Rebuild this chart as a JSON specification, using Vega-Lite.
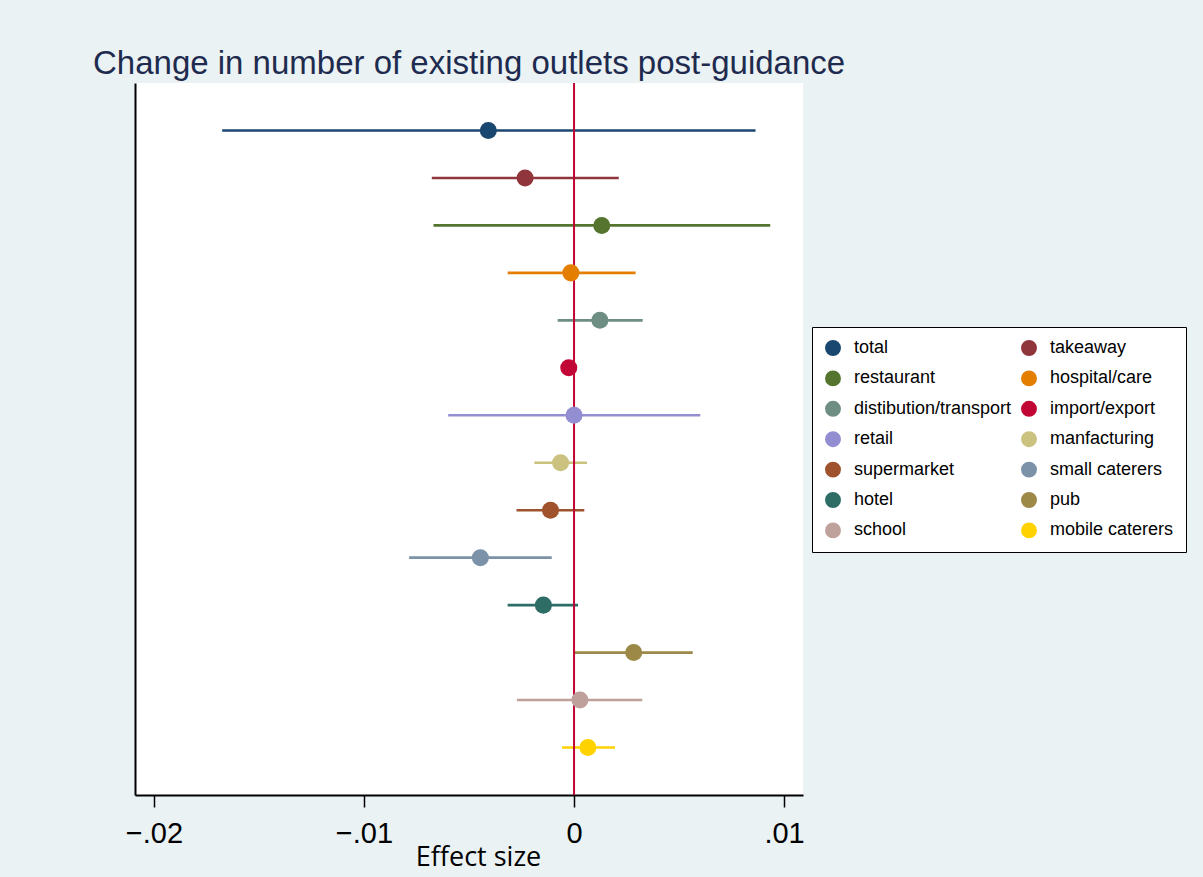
{
  "$schema": "https://vega.github.io/schema/vega-lite/v6.json",
  "autosize": "none",
  "width": 668,
  "height": 712,
  "padding": {"left": 135, "top": 83, "right": 400, "bottom": 82},
  "background": "#eaf2f3",
  "title": {
    "text": "Change in number of existing outlets post-guidance",
    "anchor": "start",
    "frame": "group",
    "dx": -42,
    "dy": 36,
    "offset": 11,
    "baseline": "alphabetic",
    "font": "Liberation Sans",
    "fontSize": 33,
    "fontWeight": "normal",
    "color": "#1e2b4f"
  },
  "data": {
    "values": [
      {"cat": "total", "est": -0.00408, "lo": -0.01675, "hi": 0.00864},
      {"cat": "takeaway", "est": -0.00233, "lo": -0.00677, "hi": 0.00213},
      {"cat": "restaurant", "est": 0.00132, "lo": -0.00669, "hi": 0.00934},
      {"cat": "hospital/care", "est": -0.00015, "lo": -0.00316, "hi": 0.00293},
      {"cat": "distibution/transport", "est": 0.00123, "lo": -0.00078, "hi": 0.00327},
      {"cat": "import/export", "est": -0.00025, "lo": -0.0004, "hi": -0.0001},
      {"cat": "retail", "est": 0.0, "lo": -0.00599, "hi": 0.00601},
      {"cat": "manfacturing", "est": -0.00064, "lo": -0.00189, "hi": 0.00062},
      {"cat": "supermarket", "est": -0.00112, "lo": -0.00274, "hi": 0.00049},
      {"cat": "small caterers", "est": -0.00446, "lo": -0.00785, "hi": -0.00106},
      {"cat": "hotel", "est": -0.00146, "lo": -0.00316, "hi": 0.00019},
      {"cat": "pub", "est": 0.00284, "lo": 0.00002, "hi": 0.00565},
      {"cat": "school", "est": 0.00028, "lo": -0.00272, "hi": 0.00325},
      {"cat": "mobile caterers", "est": 0.00066, "lo": -0.00057, "hi": 0.00195}
    ]
  },
  "layer": [
    {
      "mark": {"type": "rule", "strokeWidth": 2.6},
      "encoding": {
        "x": {
          "field": "lo",
          "type": "quantitative",
          "scale": {"domain": [-0.0209, 0.0109], "nice": false, "zero": false},
          "axis": {
            "values": [-0.02, -0.01, 0, 0.01],
            "labelExpr": "datum.value == 0 ? '0' : replace(format(datum.value, '.2f'), '0.', '.')",
            "title": "Effect size",
            "titleX": 343,
            "titleY": 70,
            "titleAlign": "center",
            "titleBaseline": "alphabetic"
          }
        },
        "x2": {"field": "hi"},
        "y": {
          "field": "cat",
          "type": "nominal",
          "sort": ["total", "takeaway", "restaurant", "hospital/care", "distibution/transport", "import/export", "retail", "manfacturing", "supermarket", "small caterers", "hotel", "pub", "school", "mobile caterers"],
          "scale": {"type": "point", "padding": 1}
        },
        "color": {
          "field": "cat",
          "type": "nominal",
          "scale": {
            "domain": ["total", "takeaway", "restaurant", "hospital/care", "distibution/transport", "import/export", "retail", "manfacturing", "supermarket", "small caterers", "hotel", "pub", "school", "mobile caterers"],
            "range": ["#1a476f", "#90353b", "#55752f", "#e37e00", "#6e8e84", "#c10534", "#938dd2", "#cac27e", "#a0522d", "#7b92a8", "#2d6d66", "#9c8847", "#bfa19c", "#ffd200"]
          },
          "legend": {
            "title": null,
            "orient": "none",
            "direction": "horizontal",
            "legendX": 677,
            "legendY": 244,
            "columns": 2,
            "symbolType": "circle",
            "symbolSize": 254,
            "symbolStrokeWidth": 0,
            "symbolOpacity": 1,
            "labelFont": "Liberation Sans",
            "labelFontSize": 18,
            "labelColor": "black",
            "labelOffset": 12,
            "labelLimit": 400,
            "rowPadding": 12.4,
            "columnPadding": 8,
            "padding": 12,
            "strokeColor": "black",
            "fillColor": "white"
          }
        }
      }
    },
    {
      "data": {"values": [{"ref": 0}]},
      "mark": {"type": "rule", "strokeWidth": 2, "color": "#c10534"},
      "encoding": {
        "x": {"field": "ref", "type": "quantitative"}
      }
    },
    {
      "mark": {"type": "point", "filled": true, "size": 290, "opacity": 1, "strokeWidth": 0},
      "encoding": {
        "x": {"field": "est", "type": "quantitative"},
        "y": {
          "field": "cat",
          "type": "nominal",
          "sort": ["total", "takeaway", "restaurant", "hospital/care", "distibution/transport", "import/export", "retail", "manfacturing", "supermarket", "small caterers", "hotel", "pub", "school", "mobile caterers"]
        },
        "color": {
          "field": "cat",
          "type": "nominal",
          "legend": {
            "title": null,
            "orient": "none",
            "direction": "horizontal",
            "legendX": 677,
            "legendY": 244,
            "columns": 2,
            "symbolType": "circle",
            "symbolSize": 254,
            "symbolStrokeWidth": 0,
            "symbolOpacity": 1,
            "labelFont": "Liberation Sans",
            "labelFontSize": 18,
            "labelColor": "black",
            "labelOffset": 12,
            "labelLimit": 400,
            "rowPadding": 12.4,
            "columnPadding": 8,
            "padding": 12,
            "strokeColor": "black",
            "fillColor": "white"
          }
        }
      }
    }
  ],
  "config": {
    "view": {"fill": "white", "stroke": null},
    "axisX": {
      "domainColor": "black",
      "domainWidth": 2,
      "tickColor": "black",
      "tickSize": 12,
      "tickWidth": 1.5,
      "labelFont": "Liberation Sans",
      "labelFontSize": 29,
      "labelColor": "black",
      "labelPadding": 12,
      "labelFlush": false,
      "grid": false,
      "titleFont": "Open Sans",
      "titleFontSize": 27,
      "titleFontWeight": "normal",
      "titleColor": "black"
    },
    "axisY": {
      "domainColor": "black",
      "domainWidth": 2,
      "ticks": false,
      "labels": false,
      "grid": false,
      "title": null
    }
  }
}
